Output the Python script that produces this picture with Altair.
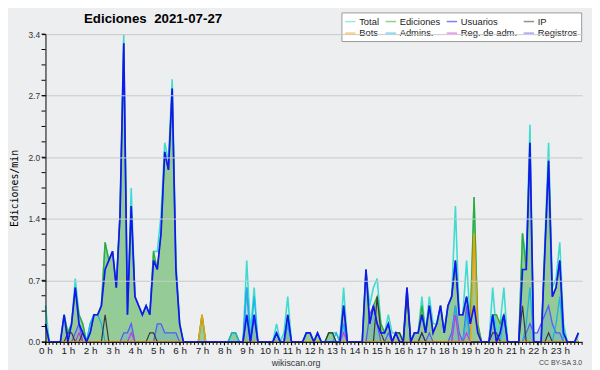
import altair as alt
import pandas as pd

# counts of actions per 10-minute slot (value shown = count / 10 per minute)
total_c = [
    4, 0, 0, 0, 0, 3, 1, 2, 7, 3, 2, 0,
    2, 3, 3, 4, 11, 9, 10, 6, 14, 34, 3, 17,
    5, 4, 3, 4, 3, 10, 10, 14, 22, 20, 29, 9,
    2, 0, 0, 0, 0, 0, 3, 0, 0, 0, 0, 0,
    0, 0, 1, 1, 0, 0, 9, 1, 6, 0, 0, 0,
    0, 0, 2, 0, 1, 5, 0, 0, 0, 0, 1, 1,
    0, 1, 0, 0, 1, 1, 1, 0, 6, 0, 0, 0,
    0, 0, 8, 4, 6, 7, 2, 1, 3, 1, 1, 1,
    0, 6, 0, 1, 1, 5, 1, 5, 2, 2, 4, 1,
    4, 5, 15, 3, 3, 9, 2, 16, 2, 0, 0, 0,
    6, 1, 2, 6, 0, 0, 0, 0, 12, 9, 24, 0,
    0, 0, 11, 22, 6, 7, 11, 2, 0, 0, 0, 1]

ediciones_c = [
    2, 0, 0, 0, 0, 3, 1, 2, 6, 3, 2, 0,
    1, 3, 3, 4, 11, 9, 10, 6, 14, 33, 3, 15,
    5, 4, 3, 4, 3, 10, 8, 12, 21, 19, 28, 8,
    2, 0, 0, 0, 0, 0, 3, 0, 0, 0, 0, 0,
    0, 0, 1, 1, 0, 0, 3, 0, 3, 0, 0, 0,
    0, 0, 1, 0, 0, 3, 0, 0, 0, 0, 1, 1,
    0, 1, 0, 0, 1, 1, 0, 0, 4, 0, 0, 0,
    0, 0, 8, 2, 4, 5, 2, 1, 2, 0, 1, 1,
    0, 6, 0, 1, 1, 4, 1, 4, 1, 2, 4, 1,
    4, 5, 9, 3, 3, 5, 2, 16, 2, 0, 0, 0,
    3, 3, 2, 3, 0, 0, 0, 0, 12, 8, 22, 0,
    0, 0, 10, 20, 5, 6, 9, 1, 0, 0, 0, 1]

usuarios_c = [
    2, 0, 0, 0, 0, 3, 0, 2, 6, 2, 1, 0,
    1, 3, 3, 4, 8, 9, 10, 6, 14, 33, 3, 15,
    5, 4, 3, 4, 3, 9, 8, 12, 21, 19, 28, 8,
    2, 0, 0, 0, 0, 0, 0, 0, 0, 0, 0, 0,
    0, 0, 0, 0, 0, 0, 3, 0, 3, 0, 0, 0,
    0, 0, 1, 0, 0, 3, 0, 0, 0, 0, 1, 1,
    0, 1, 0, 0, 0, 0, 0, 0, 4, 0, 0, 0,
    0, 0, 8, 2, 4, 2, 1, 1, 2, 0, 1, 0,
    0, 6, 0, 1, 1, 3, 1, 4, 1, 2, 4, 1,
    4, 5, 9, 3, 3, 5, 2, 4, 1, 0, 0, 0,
    3, 0, 1, 3, 0, 0, 0, 0, 8, 8, 22, 0,
    0, 0, 10, 20, 5, 6, 9, 1, 0, 0, 0, 1]

ip_c = [
    0, 0, 0, 0, 0, 0, 1, 1, 0, 0, 1, 0,
    0, 0, 0, 0, 3, 0, 0, 0, 0, 0, 0, 0,
    0, 0, 0, 0, 1, 1, 0, 0, 0, 0, 0, 0,
    0, 0, 0, 0, 0, 0, 0, 0, 0, 0, 0, 0,
    0, 0, 0, 0, 0, 0, 0, 0, 0, 0, 0, 0,
    0, 0, 0, 0, 0, 0, 0, 0, 0, 0, 0, 0,
    0, 0, 0, 0, 1, 1, 0, 0, 0, 0, 0, 0,
    0, 0, 0, 0, 0, 5, 1, 0, 0, 0, 1, 1,
    0, 5, 0, 0, 0, 1, 0, 0, 0, 0, 0, 0,
    0, 0, 0, 0, 0, 0, 0, 0, 0, 0, 0, 0,
    1, 1, 0, 0, 0, 0, 0, 0, 4, 0, 0, 0,
    0, 0, 0, 1, 0, 0, 0, 0, 0, 0, 0, 0]

bots_c = [
    0, 0, 0, 0, 0, 0, 0, 0, 0, 0, 0, 0,
    0, 0, 0, 0, 0, 0, 0, 0, 0, 0, 0, 0,
    0, 0, 0, 0, 0, 0, 0, 0, 0, 0, 0, 0,
    0, 0, 0, 0, 0, 0, 3, 0, 0, 0, 0, 0,
    0, 0, 0, 0, 0, 0, 0, 0, 0, 0, 0, 0,
    0, 0, 0, 0, 0, 0, 0, 0, 0, 0, 0, 0,
    0, 0, 0, 0, 0, 0, 0, 0, 0, 0, 0, 0,
    0, 0, 0, 0, 0, 0, 0, 0, 0, 0, 0, 0,
    0, 0, 0, 0, 0, 0, 0, 0, 0, 0, 0, 0,
    0, 0, 0, 0, 0, 0, 0, 12, 1, 0, 0, 0,
    0, 0, 0, 0, 0, 0, 0, 0, 0, 0, 0, 0,
    0, 0, 0, 0, 0, 0, 0, 0, 0, 0, 0, 0]

admins_c = [
    0, 0, 0, 0, 0, 0, 0, 0, 0, 0, 0, 0,
    2, 3, 3, 2, 0, 0, 0, 0, 0, 0, 0, 0,
    0, 0, 0, 0, 0, 0, 0, 0, 0, 0, 0, 0,
    0, 0, 0, 0, 0, 0, 0, 0, 0, 0, 0, 0,
    0, 0, 1, 1, 0, 0, 6, 0, 5, 0, 0, 0,
    0, 0, 1, 0, 0, 2, 0, 0, 0, 0, 0, 0,
    0, 0, 0, 0, 0, 0, 1, 0, 2, 0, 0, 0,
    0, 0, 0, 0, 0, 0, 0, 0, 0, 0, 0, 0,
    0, 0, 0, 0, 0, 0, 0, 0, 0, 0, 0, 0,
    0, 0, 4, 0, 0, 3, 0, 0, 0, 0, 0, 0,
    3, 0, 0, 3, 0, 0, 0, 0, 0, 2, 6, 0,
    0, 0, 0, 0, 0, 2, 5, 0, 0, 0, 0, 0]

regadm_c = [
    0, 0, 0, 0, 0, 0, 0, 0, 0, 1, 0, 0,
    0, 0, 0, 0, 0, 0, 0, 0, 0, 0, 0, 1,
    0, 0, 0, 0, 0, 0, 0, 0, 0, 0, 0, 0,
    0, 0, 0, 0, 0, 0, 0, 0, 0, 0, 0, 0,
    0, 0, 0, 0, 0, 0, 0, 0, 0, 0, 0, 0,
    0, 0, 0, 0, 0, 0, 0, 0, 0, 0, 0, 0,
    0, 0, 0, 0, 0, 0, 0, 0, 1, 0, 0, 0,
    0, 0, 0, 0, 0, 0, 0, 0, 0, 0, 0, 0,
    0, 0, 0, 0, 0, 0, 0, 0, 0, 0, 0, 0,
    0, 0, 3, 0, 0, 1, 0, 0, 0, 0, 0, 0,
    0, 0, 0, 0, 0, 0, 0, 0, 0, 0, 0, 0,
    0, 0, 0, 0, 0, 0, 0, 0, 0, 0, 0, 0]

registros_c = [
    0, 0, 0, 0, 0, 0, 0, 0, 1, 2, 0, 0,
    0, 0, 0, 0, 0, 0, 0, 0, 0, 1, 1, 2,
    0, 0, 0, 0, 0, 0, 2, 2, 1, 1, 1, 1,
    0, 0, 0, 0, 0, 0, 0, 0, 0, 0, 0, 0,
    0, 0, 0, 0, 0, 0, 6, 0, 3, 0, 0, 0,
    0, 0, 1, 0, 0, 2, 0, 0, 0, 0, 0, 0,
    0, 0, 0, 0, 0, 0, 0, 0, 2, 0, 0, 0,
    0, 0, 0, 3, 4, 2, 0, 0, 1, 0, 0, 0,
    0, 0, 0, 0, 0, 1, 0, 1, 0, 0, 0, 0,
    0, 1, 4, 1, 0, 4, 0, 0, 0, 0, 0, 0,
    3, 0, 1, 3, 0, 0, 0, 0, 0, 1, 2, 1,
    1, 2, 3, 4, 2, 1, 1, 0, 0, 0, 0, 0]

series_names = ["Total", "Ediciones", "Usuarios", "IP",
                "Bots", "Admins.", "Reg. de adm.", "Registros"]
series_colors = ["#3edcd0", "#33aa33", "#1414f5", "#383838",
                 "#ff9a00", "#1ab4e6", "#c83cd8", "#5a5af5"]
series_counts = [total_c, ediciones_c, usuarios_c, ip_c,
                 bots_c, admins_c, regadm_c, registros_c]
# legend is filled column by column: two rows of four
legend_order = ["Total", "Bots", "Ediciones", "Admins.",
                "Usuarios", "Reg. de adm.", "IP", "Registros"]
legend_colors = [series_colors[series_names.index(n)] for n in legend_order]

hour_ticks = list(range(0, 24 * 60, 60))
minor_x = list(range(0, 24 * 60 + 1, 10))
major_y = [0.0, 0.68, 1.36, 2.04, 2.72, 3.4]
minor_y = [round(0.17 * k, 2) for k in range(21)]

rows = []
for name, counts in zip(series_names, series_counts):
    for i, c in enumerate(counts):
        rows.append({"serie": name, "m": i * 10, "v": c / 10})
df = pd.DataFrame(rows)

FONT = "Liberation Sans"

xscale = alt.Scale(domain=[0, 1440], nice=False, zero=False)
yscale = alt.Scale(domain=[0, 3.4], nice=False)
xaxis = alt.Axis(values=hour_ticks, labelExpr="format(datum.value/60,'d') + ' h'",
                 title=None, grid=False, domainColor="black", tickColor="black",
                 tickSize=3, labelFont=FONT, labelFontSize=10, labelColor="#222",
                 labelPadding=1, labelFlush=False, labelOverlap=False, zindex=1)
yaxis = alt.Axis(values=major_y, labelExpr="format(datum.value,'.1f')",
                 title="Ediciones/min", titleFont="DejaVu Sans Mono",
                 titleFontSize=10, titleFontWeight="normal", titleColor="black",
                 titleX=-31, titleY=156, titleAngle=270, titleAlign="center",
                 titleBaseline="middle",
                 grid=True, gridColor="#c9c9c9", gridWidth=1,
                 domainColor="black", tickColor="black", tickSize=4,
                 labelFont=FONT, labelFontSize=8.5, labelColor="#333",
                 labelPadding=2, labelFlush=False, zindex=1)

X = alt.X("m:Q", scale=xscale, axis=xaxis)
Y = alt.Y("v:Q", scale=yscale, axis=yaxis)

color = alt.Color("serie:N",
                  scale=alt.Scale(domain=legend_order, range=legend_colors),
                  legend=alt.Legend(title=None, orient="none", legendX=300, legendY=-22,
                                    columns=4, gridAlign="each",
                                    fillColor="white", strokeColor="#9a9a9a",
                                    padding=3, labelFont=FONT, labelFontSize=9.5,
                                    labelColor="#222", symbolType="stroke",
                                    symbolStrokeWidth=1.5, symbolSize=110,
                                    symbolOpacity=0.55, columnPadding=2, rowPadding=1,
                                    labelOffset=3, labelLimit=0))

base = alt.Chart(df)

def sel(name):
    return base.transform_filter(alt.datum.serie == name)

area_ed = sel("Ediciones").mark_area(interpolate="linear", color="#1a9a1a",
                                     opacity=0.42).encode(x=X, y=Y)
area_reg = sel("Registros").mark_area(interpolate="linear", color="#5aa8d8",
                                      opacity=0.3).encode(x=X, y=Y)

draw_order = ["Total", "Ediciones", "Registros", "Admins.", "Reg. de adm.",
              "IP", "Bots", "Usuarios"]
widths = {"Total": 1.6, "Ediciones": 1.4, "Registros": 1.3, "Admins.": 1.3,
          "Reg. de adm.": 1.3, "IP": 1.2, "Bots": 1.4, "Usuarios": 1.7}
line_layers = [sel(n).mark_line(interpolate="linear", strokeWidth=widths[n])
               .encode(x=X, y=Y, color=color) for n in draw_order]

tx = alt.Chart(pd.DataFrame({"m": minor_x})).mark_rule(color="black", strokeWidth=1).encode(
    x=X, y=alt.value(312), y2=alt.value(315))
ty = alt.Chart(pd.DataFrame({"v": minor_y})).mark_rule(color="black", strokeWidth=1).encode(
    y=Y, x=alt.value(-4), x2=alt.value(0))

title = alt.Chart(pd.DataFrame({"t": ["Ediciones\u00a0 2021-07-27"]})).mark_text(
    font=FONT, fontSize=13.5, fontWeight="bold", color="black", align="left",
    baseline="alphabetic").encode(text="t:N", x=alt.value(39), y=alt.value(-11))
site = alt.Chart(pd.DataFrame({"t": ["wikiscan.org"]})).mark_text(
    font=FONT, fontSize=9, color="#333", align="center", baseline="middle").encode(
    text="t:N", x=alt.value(254), y=alt.value(333))
lic = alt.Chart(pd.DataFrame({"t": ["CC BY-SA 3.0"]})).mark_text(
    font=FONT, fontSize=7, color="#444", align="right", baseline="middle").encode(
    text="t:N", x=alt.value(544), y=alt.value(333))

chart = alt.layer(area_ed, area_reg, *line_layers, tx, ty, title, site, lic).properties(
    width=544, height=312,
    autosize=alt.AutoSizeParams(type="none"),
    padding={"left": 38, "top": 24, "right": 10, "bottom": 26},
    background="#edeef0",
).configure_view(strokeWidth=0)

chart.save("out.html", embed_options={"renderer": "svg", "actions": False})
